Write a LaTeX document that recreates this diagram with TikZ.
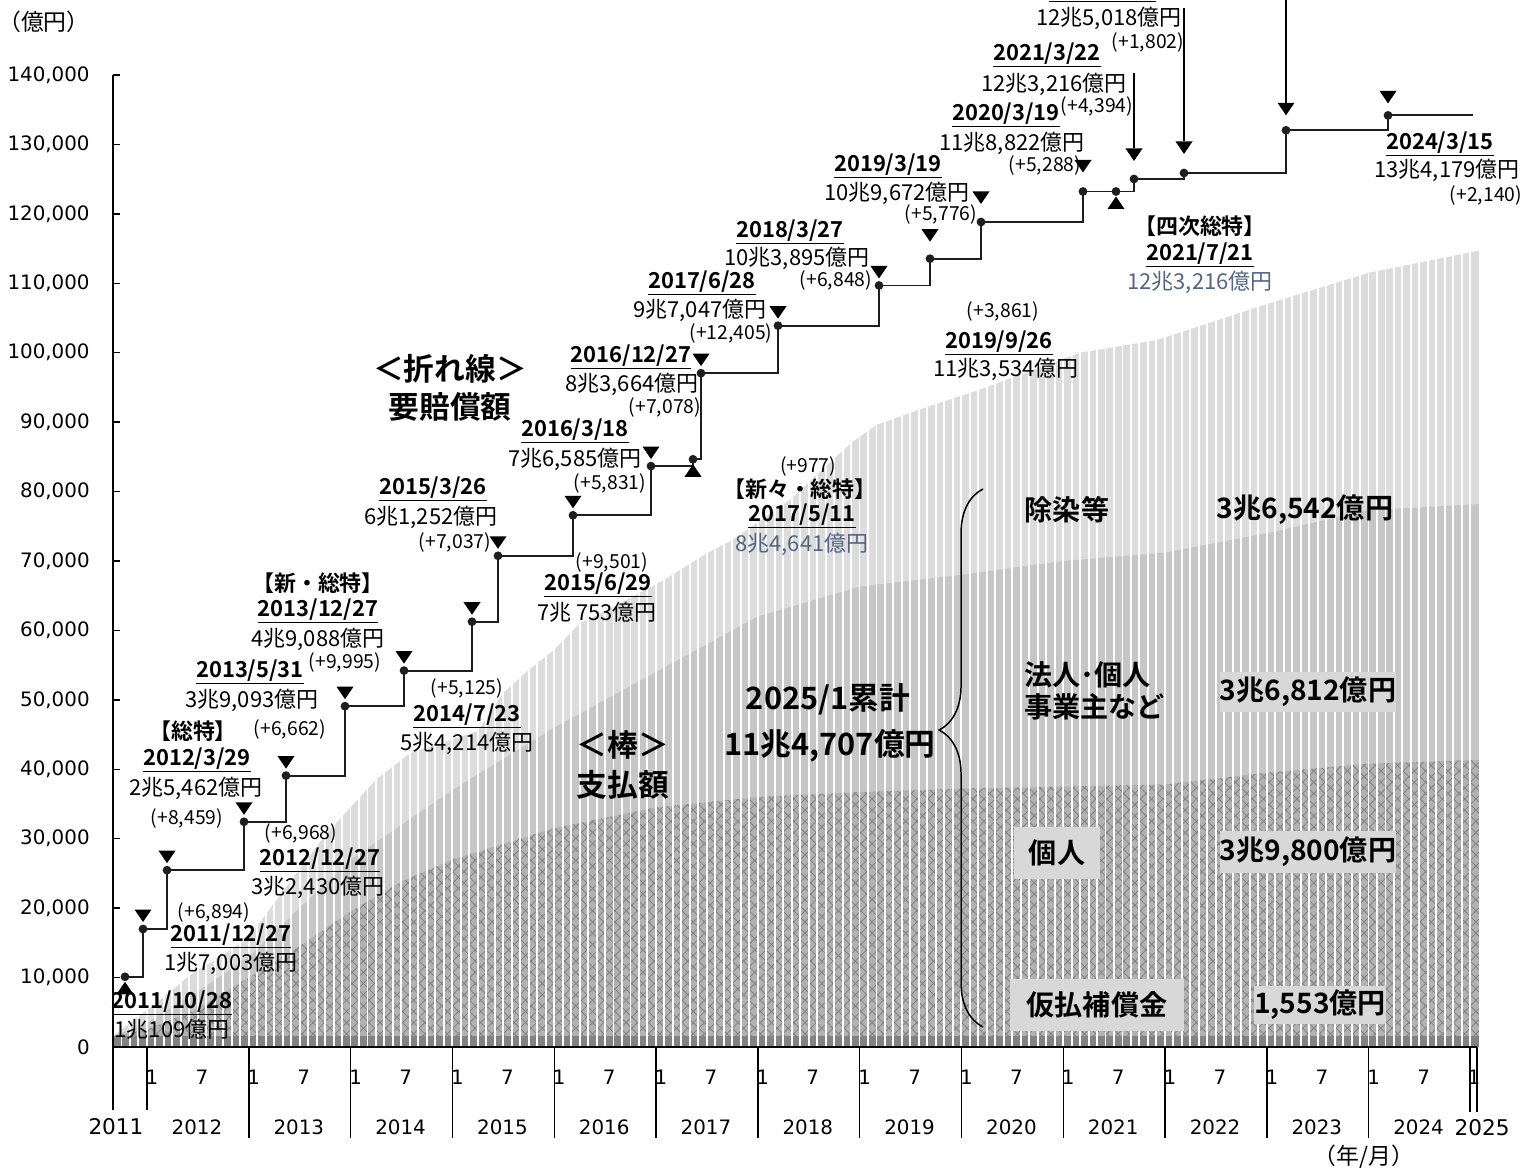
\documentclass[tikz,border=0pt]{standalone}
\usepackage{fontspec}
\setmainfont{Noto Sans CJK JP}[BoldFont={Noto Sans CJK JP Bold}]
\newfontfamily\numfont{DejaVu Sans}
\usepackage{tikz}
\usetikzlibrary{positioning,decorations.pathreplacing,patterns.meta}
\definecolor{linegray}{RGB}{30,30,30}
\definecolor{bardecon}{RGB}{220,220,220}
\definecolor{barcorp}{RGB}{198,198,198}
\definecolor{barindiv}{RGB}{178,178,178}
\definecolor{hatchgray}{RGB}{128,128,128}
\definecolor{barprov}{RGB}{130,130,130}
\definecolor{boxgray}{RGB}{216,216,216}
\definecolor{slate}{RGB}{84,100,132}

\begin{document}
\begin{tikzpicture}[x=0.02cm, y=-0.02cm]
  % Define styles
  \tikzstyle{amt} = [font=\fontsize{12.5}{14}\selectfont, inner sep=0pt]
  \tikzstyle{bluelbl} = [amt, text=slate]
  \tikzstyle{datelbl} = [font=\bfseries\fontsize{12.5}{15}\selectfont, inner sep=0pt]
  \tikzstyle{inc} = [font=\fontsize{11}{12}\selectfont, inner sep=0pt]
  \tikzstyle{bigtitle} = [font=\bfseries\fontsize{17.5}{21}\selectfont, inner sep=0pt]
  \tikzstyle{catlbl} = [font=\bfseries\fontsize{16}{19}\selectfont, inner sep=0pt]
  \tikzstyle{catbox} = [catlbl, fill=boxgray]
  \tikzstyle{axlab} = [font=\numfont\fontsize{11.3}{13}\selectfont, inner sep=0pt]
  \tikzstyle{unitlbl} = [font=\fontsize{13}{15}\selectfont, inner sep=0pt]
  \tikzstyle{axis} = [draw=black, line width=0.8pt]
  \tikzstyle{gap} = [draw=white, line width=1.1pt]
  \tikzstyle{stepline} = [draw=linegray, line width=1.1pt]
  \tikzstyle{leader} = [draw=black, line width=0.85pt]
  \tikzstyle{dot} = [circle, fill=linegray, inner sep=0pt, minimum size=5pt]
  \tikzset{dn/.pic={\fill[black] (-8.5,-6.5) -- (8.5,-6.5) -- (0,6) -- cycle;
                    \coordinate (-top) at (0,-6.5);},
           upm/.pic={\fill[black] (-8.5,6.5) -- (8.5,6.5) -- (0,-6) -- cycle;}}

  \useasboundingbox (0,0) rectangle (1531,1168);

  % Bars (months since 2011/9, thousand oku yen)
  \begin{scope}[shift={(113,1047)}, x={(8.483,0)}, y={(0,-6.943)}]
    \fill[bardecon] (0,0) -- (0,1.6) -- (1,2.5) -- (4,5.3) -- (7,8.2) -- (9,10.3) -- (13,13.3)
      -- (16,15.8) -- (21,24) -- (25,30.5) -- (28,34.5) -- (31,38.5) -- (35,42.3) -- (43,45.5)
      -- (46,51) -- (49,54.3) -- (52,57.2) -- (55,61) -- (59,63.4) -- (65,67.3) -- (70,71.1)
      -- (73,73) -- (80,79) -- (87,87) -- (90,89.6) -- (96,92.2) -- (102,94.6) -- (114,100)
      -- (123,101.8) -- (136,107) -- (148,111.5) -- (161,114.7) -- (161,0) -- cycle;
    \fill[barcorp] (0,0) -- (0,1.55) -- (4,3.5) -- (10,8) -- (16,13) -- (22,20) -- (28,27)
      -- (40,37) -- (52,46) -- (64,54) -- (76,62) -- (88,66.3) -- (100,68) -- (112,70)
      -- (124,71.2) -- (136,74) -- (148,77.3) -- (161,78.2) -- (161,0) -- cycle;
    \path[fill=barindiv,
          postaction={pattern={Lines[angle=45,distance=4.5pt,line width=0.45pt]}, pattern color=hatchgray},
          postaction={pattern={Lines[angle=-45,distance=4.5pt,line width=0.45pt]}, pattern color=hatchgray}]
      (0,0) -- (0,1.55) -- (4,2.5) -- (10,5.5) -- (16,10) -- (22,14.5) -- (28,19.5) -- (34,23.8)
      -- (40,27) -- (52,31.5) -- (64,34.5) -- (76,36) -- (88,36.7) -- (100,37.2) -- (112,37.5)
      -- (124,37.8) -- (136,39.5) -- (148,40.8) -- (161,41.35) -- (161,0) -- cycle;
    \fill[barprov] (0,0) rectangle (161,1.553);
    \foreach \k in {1,...,160} \draw[gap] (\k,0) -- (\k,116);
  \end{scope}

  % Axes
  \draw[axis] (113,75) -- (113,1110);
  \foreach \v in {0,...,14} \draw[axis] (113,{1047-69.43*\v}) -- ++(7,0);
  \draw[axis] (113,1047) -- (1477,1047);
  \draw[axis] (147,1047) -- (147,1110);
  \foreach \y in {1,...,12} \draw[axis] ({147+101.8*\y},1047) -- ++(0,91);
  \draw[axis] (1470,1047) -- (1470,1112);
  \draw[axis] (1477,1047) -- (1477,1112);

  \node[axlab, anchor=east] (y0) at (90,1047) {0};
  \foreach \v in {1,...,14} \node[axlab, anchor=east] (y\v) at (90,{1047-69.43*\v}) {\v0,000};
  \node[unitlbl] (unit) at (44,22) {（億円）};
  \foreach \y in {0,...,12} {
    \node[axlab] (ma\y) at ({152+101.8*\y},1077) {1};
    \node[axlab] (mb\y) at ({202+101.8*\y},1077) {7};
    \node[axlab] (yr\y) at ({197+101.8*\y},1127) {\the\numexpr2012+\y\relax};
  }
  \node[axlab] (ma13) at (1474,1077) {1};
  \node[axlab, font=\numfont\fontsize{12.3}{14}\selectfont] (yfirst) at (116,1127) {2011};
  \node[axlab, font=\numfont\fontsize{12.3}{14}\selectfont] (ylast) at (1482,1128) {2025};
  \node[unitlbl] (ym) at (1364,1157) {（年/月）};

  % Step line
  \foreach \i/\px/\py in {1/125/976.8, 2/143/929.0, 3/167/870.2, 4/244/821.8, 5/286/775.6,
      6/345/706.2, 7/404/670.6, 8/472/621.7, 9/498/555.8, 10/573/515.3, 11/651/466.1,
      12/693/459.3, 13/701/373.2, 14/778/325.7, 15/879/285.5, 16/930/258.7, 17/981/222.0,
      18/1083/191.5, 19/1116/191.5, 20/1134/179.0, 21/1184/173.0, 22/1286/130.3, 23/1388/115.4}
    \coordinate (p\i) at (\px,\py);
  \coordinate (pend) at (1473,115.4);
  \draw[stepline] (p1) -| (p2) -| (p3) -| (p4) -| (p5) -| (p6) -| (p7) -| (p8) -| (p9)
    -| (p10) -| (p11) -| (p12) -| (p13) -| (p14) -| (p15) -| (p16) -| (p17) -| (p18)
    -| (p19) -| (p20) -| (p21) -| (p22) -| (p23) -- (pend);
  \foreach \i in {1,...,23} \node[dot] (d\i) at (p\i) {};

  % Markers
  \foreach \i/\dy in {2/13, 3/13, 4/13, 5/13, 6/13, 7/13, 8/13, 9/13, 10/13, 11/13, 13/13,
      14/13, 15/13, 16/23, 17/24, 18/25, 20/24, 21/25, 22/21, 23/18}
    \path (p\i) ++(0,-\dy) pic (m\i) {dn};
  \foreach \i in {1,12,19} \path (p\i) ++(0,11) pic {upm};

  % Leaders
  \coordinate (l20) at (1134,73);
  \coordinate (l21) at (1184,8);
  \coordinate (l22) at (1286,-2);
  \draw[leader] (l20) -- (m20-top);
  \draw[leader] (l21) -- (m21-top);
  \draw[leader] (l22) -- (m22-top);
  \draw[line width=0.8pt] (1049,1.5) -- (1156,1.5);

  % Revision labels
  \node[datelbl] (n1a) at (172,1003) {\underline{2011/10/28}};
  \node[amt] (n1b) at (172,1029) {1兆109億円};
  \node[inc] (n2c) at (214,912) {(+6,894)};
  \node[datelbl] (n2a) at (231,936) {\underline{2011/12/27}};
  \node[amt] (n2b) at (231,963) {1兆7,003億円};
  \node[datelbl] (n3d) at (193,731) {【総特】};
  \node[datelbl] (n3a) at (197,760) {\underline{2012/3/29}};
  \node[amt] (n3b) at (196,788) {2兆5,462億円};
  \node[inc] (n3c) at (187,818) {(+8,459)};
  \node[inc] (n4c) at (301,833) {(+6,968)};
  \node[datelbl] (n4a) at (320,860) {\underline{2012/12/27}};
  \node[amt] (n4b) at (318,887) {3兆2,430億円};
  \node[datelbl] (n5a) at (250,672) {\underline{2013/5/31}};
  \node[amt] (n5b) at (252,700) {3兆9,093億円};
  \node[inc] (n5c) at (290,729) {(+6,662)};
  \node[datelbl] (n6d) at (318,583) {【新・総特】};
  \node[datelbl] (n6a) at (318,611) {\underline{2013/12/27}};
  \node[amt] (n6b) at (318,639) {4兆9,088億円};
  \node[inc] (n6c) at (345,662) {(+9,995)};
  \node[inc] (n7c) at (467,688) {(+5,125)};
  \node[datelbl] (n7a) at (467,716) {\underline{2014/7/23}};
  \node[amt] (n7b) at (467,743) {5兆4,214億円};
  \node[datelbl] (n8a) at (433,489) {\underline{2015/3/26}};
  \node[amt] (n8b) at (431,517) {6兆1,252億円};
  \node[inc] (n8c) at (455,542) {(+7,037)};
  \node[inc] (n9c) at (612,562) {(+9,501)};
  \node[datelbl] (n9a) at (598,585) {\underline{2015/6/29}};
  \node[amt] (n9b) at (597,612) {7兆 753億円};
  \node[datelbl] (n10a) at (575,431) {\underline{2016/3/18}};
  \node[amt] (n10b) at (575,459) {7兆6,585億円};
  \node[inc] (n10c) at (610,483) {(+5,831)};
  \node[datelbl] (n11a) at (631,357) {\underline{2016/12/27}};
  \node[amt] (n11b) at (632,384) {8兆3,664億円};
  \node[inc] (n11c) at (665,407) {(+7,078)};
  \node[inc] (n12c) at (808,466) {(+977)};
  \node[datelbl] (n12d) at (800,489) {【新々・総特】};
  \node[datelbl] (n12a) at (802,516) {\underline{2017/5/11}};
  \node[bluelbl] (n12b) at (802,544) {8兆4,641億円};
  \node[datelbl] (n13a) at (702,283) {\underline{2017/6/28}};
  \node[amt] (n13b) at (700,310) {9兆7,047億円};
  \node[inc] (n13c) at (731,333) {(+12,405)};
  \node[datelbl] (n14a) at (790,232) {\underline{2018/3/27}};
  \node[amt] (n14b) at (797,258) {10兆3,895億円};
  \node[inc] (n14c) at (836,280) {(+6,848)};
  \node[datelbl] (n15a) at (888,166) {\underline{2019/3/19}};
  \node[amt] (n15b) at (897,193) {10兆9,672億円};
  \node[inc] (n15c) at (941,214) {(+5,776)};
  \node[inc] (n16c) at (1003,311) {(+3,861)};
  \node[datelbl] (n16a) at (999,343) {\underline{2019/9/26}};
  \node[amt] (n16b) at (1006,369) {11兆3,534億円};
  \node[datelbl] (n17a) at (1006,115) {\underline{2020/3/19}};
  \node[amt] (n17b) at (1012,143) {11兆8,822億円};
  \node[inc] (n17c) at (1045,165) {(+5,288)};
  \node[datelbl] (n18a) at (1047,55) {\underline{2021/3/22}};
  \node[amt] (n18b) at (1054,84) {12兆3,216億円};
  \node[inc] (n18c) at (1097,106) {(+4,394)};
  \node[datelbl] (n19d) at (1200,226) {【四次総特】};
  \node[datelbl] (n19a) at (1200,255) {\underline{2021/7/21}};
  \node[bluelbl] (n19b) at (1200,282) {12兆3,216億円};
  \node[amt] (n20b) at (1109,18) {12兆5,018億円};
  \node[inc] (n20c) at (1148,42) {(+1,802)};
  \node[datelbl] (n23a) at (1440,144) {\underline{2024/3/15}};
  \node[amt] (n23b) at (1447,170) {13兆4,179億円};
  \node[inc] (n23c) at (1486,195) {(+2,140)};

  % Titles
  \node[bigtitle] (lt1) at (450,369) {＜折れ線＞};
  \node[bigtitle] (lt2) at (450,407) {要賠償額};
  \node[bigtitle] (bt1) at (623,745) {＜棒＞};
  \node[bigtitle] (bt2) at (623,785) {支払額};
  \node[bigtitle] (sum1) at (828,699) {2025/1累計};
  \node[bigtitle] (sum2) at (830,746) {11兆4,707億円};

  % Breakdown
  \coordinate (bb) at (983,1027);
  \coordinate (bt) at (983,489);
  \draw[line width=0.85pt, decorate, decoration={brace, amplitude=25pt, aspect=0.552}] (bb) -- (bt);
  \node[catlbl] (c1) at (1067,510) {除染等};
  \node[catlbl] (c1v) at (1305,510) {3兆6,542億円};
  \node[catlbl, anchor=west] (c2) at (1024,675) {法人･個人};
  \node[catlbl, anchor=west] (c2b) at (1024,707) {事業主など};
  \node[catbox, minimum width=97pt, minimum height=22.5pt] (c2v) at (1308,692) {3兆6,812億円};
  \node[catbox, minimum width=49pt, minimum height=30pt] (c3) at (1057,853) {個人};
  \node[catbox, minimum width=97pt, minimum height=24pt] (c3v) at (1308,852) {3兆9,800億円};
  \node[catbox, minimum width=99pt, minimum height=30pt] (c4) at (1097,1005) {仮払補償金};
  \node[catbox, minimum width=74pt, minimum height=22pt] (c4v) at (1320,1005) {1,553億円};
\end{tikzpicture}
\end{document}
